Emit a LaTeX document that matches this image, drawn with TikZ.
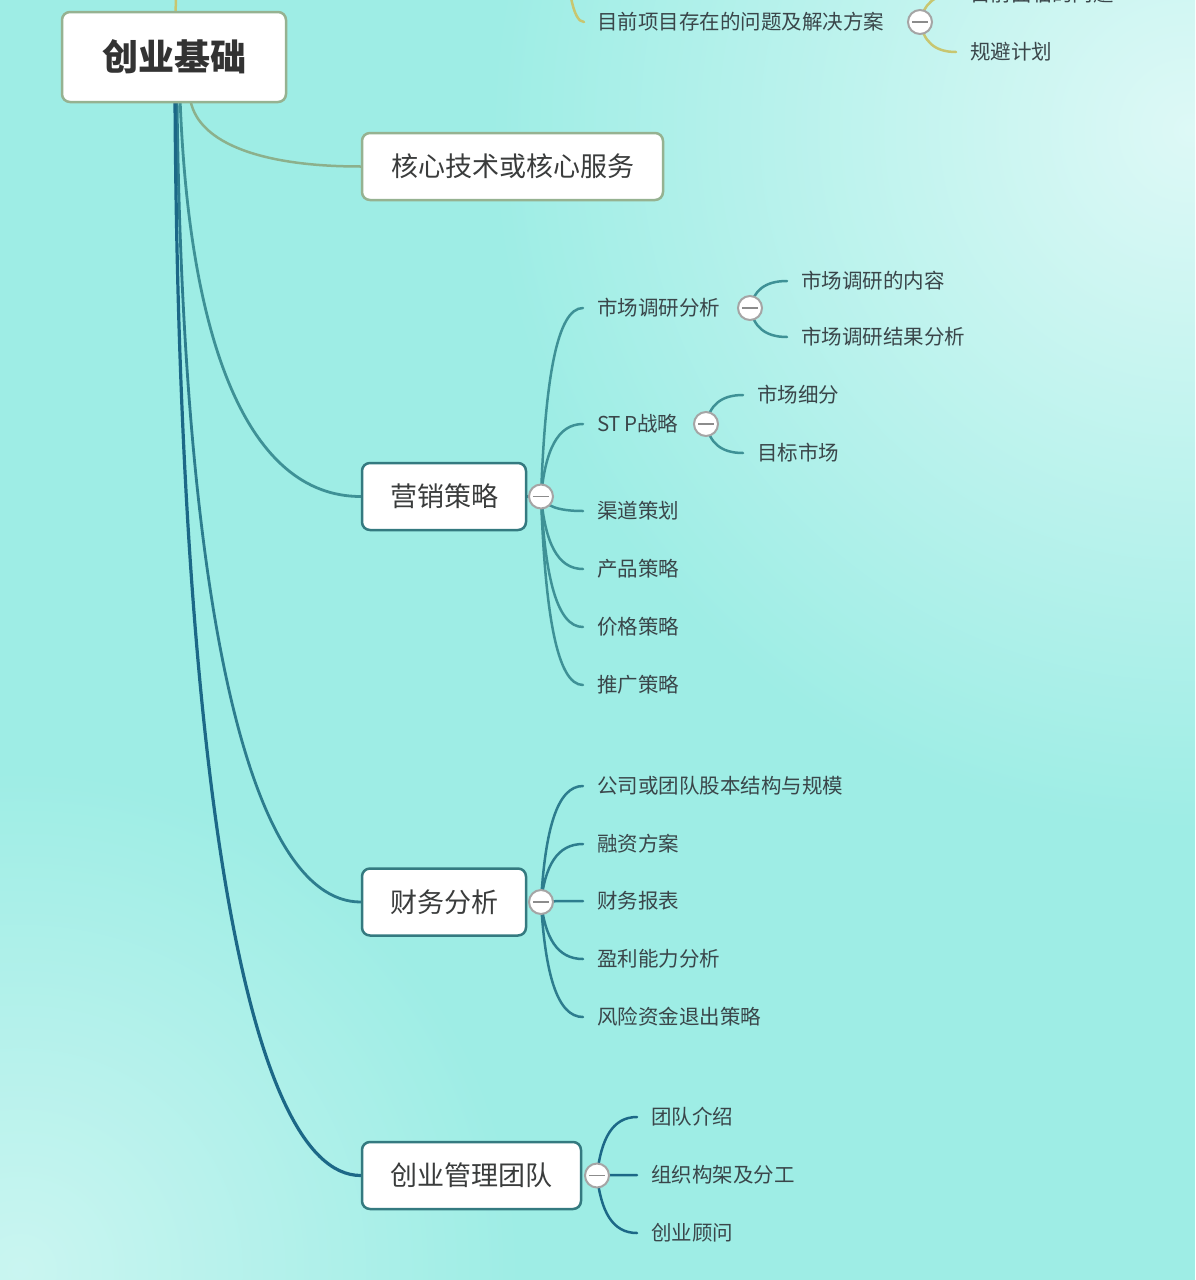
\documentclass[tikz,border=0pt]{standalone}
\usepackage{fontspec}
\setmainfont{Noto Sans CJK SC}
\usetikzlibrary{calc}
\definecolor{bgc}{RGB}{158,237,229}
\definecolor{yel}{RGB}{200,198,112}
\definecolor{olv}{RGB}{140,176,140}
\definecolor{rootb}{RGB}{150,178,145}
\definecolor{teal1}{RGB}{62,145,150}
\definecolor{teal2}{RGB}{45,125,142}
\definecolor{teal3}{RGB}{28,104,135}
\definecolor{boxb}{RGB}{52,122,128}
\definecolor{knobc}{RGB}{165,165,165}
\definecolor{leaftxt}{RGB}{58,70,74}
\definecolor{boxtxt}{RGB}{58,60,60}
\pgfdeclarelayer{bglayer}
\pgfdeclarelayer{lines}
\pgfsetlayers{bglayer,lines,main}
\tikzset{
  box/.style={draw, line width=2.5pt, rounded corners=8pt, fill=white, text=boxtxt,
    inner sep=0pt, font=\fontsize{27}{30}\selectfont},
  leaf/.style={anchor=west, text=leaftxt, inner sep=0pt, font=\fontsize{20.5}{24}\selectfont},
  knob/.style={circle, draw=knobc, line width=2pt, fill=white, minimum size=24pt, inner sep=0pt,
    path picture={\draw[knobc!85!black, line width=1.8pt]
      ([xshift=-8pt]path picture bounding box.center) -- ([xshift=8pt]path picture bounding box.center);}},
  link/.style={line width=2.5pt, line cap=round},
}
% curve: from #2 to #3 (first leaves steeply, ends horizontally)
\newcommand\mmlink[4][0.1]{%
  \draw[link,#4] let \p1=(#2), \p2=(#3) in
    (\p1) .. controls ({\x1+#1*(\x2-\x1)},{\y1+0.62*(\y2-\y1)})
             and ({\x1+0.38*(\x2-\x1)},\y2) .. (\p2);}
\begin{document}
\begin{tikzpicture}[x=1pt,y=-1pt]
\useasboundingbox (0,0) rectangle (1195,1280);
\begin{pgfonlayer}{bglayer}
\clip (0,0) rectangle (1195,1280);
\fill[bgc] (0,0) rectangle (1195,1280);
\shade[inner color=white!65!bgc, outer color=bgc] (1190,130) circle (700);
\shade[inner color=white!45!bgc, outer color=bgc] (20,1270) circle (500);
\end{pgfonlayer}
\clip (0,0) rectangle (1195,1280);

% main boxes
\node[box, draw=rootb, minimum width=224pt, minimum height=90pt,
  font=\fontsize{36}{40}\selectfont\bfseries, text=black!80] (root) at (174,57) {创业基础};
\node[box, draw=rootb, minimum width=301pt, minimum height=67pt] (core) at (512.5,166.5) {核心技术或核心服务};
\node[box, draw=boxb, minimum width=164pt, minimum height=67pt] (mkt) at (444,496.5) {营销策略};
\node[box, draw=boxb, minimum width=164pt, minimum height=67pt] (fin) at (444,902) {财务分析};
\node[box, draw=boxb, minimum width=219pt, minimum height=67pt] (team) at (471.5,1175.5) {创业管理团队};

% top (cut) branch
\coordinate (uptop) at (177,-30);
\coordinate (upbr) at (566,-70);
\node[leaf] (prob) at (597,22) {目前项目存在的问题及解决方案};
\node[knob] (kprob) at (920,22) {};
\node[leaf] (prob1) at (970,-6) {目前面临的问题};
\node[leaf] (prob2) at (970,52) {规避计划};

% marketing
\node[knob] (kmkt) at (541,496.5) {};
\node[leaf] (m1) at (597,308) {市场调研分析};
\node[leaf] (m2) at (597,424) {ST\kern3pt P战略};
\node[leaf] (m3) at (597,511) {渠道策划};
\node[leaf] (m4) at (597,569) {产品策略};
\node[leaf] (m5) at (597,627) {价格策略};
\node[leaf] (m6) at (597,685) {推广策略};
\node[knob] (km1) at (750,308) {};
\node[leaf] (m11) at (801,281) {市场调研的内容};
\node[leaf] (m12) at (801,337) {市场调研结果分析};
\node[knob] (km2) at (706,424) {};
\node[leaf] (m21) at (757,395) {市场细分};
\node[leaf] (m22) at (757,453) {目标市场};

% finance
\node[knob] (kfin) at (541,902) {};
\node[leaf] (f1) at (597,786) {公司或团队股本结构与规模};
\node[leaf] (f2) at (597,844) {融资方案};
\node[leaf] (f3) at (597,901) {财务报表};
\node[leaf] (f4) at (597,959) {盈利能力分析};
\node[leaf] (f5) at (597,1017) {风险资金退出策略};

% team
\node[knob] (kteam) at (597,1175.5) {};
\node[leaf] (t1) at (651,1117) {团队介绍};
\node[leaf] (t2) at (651,1175) {组织构架及分工};
\node[leaf] (t3) at (651,1233) {创业顾问};

\begin{pgfonlayer}{lines}
% root connectors
\draw[link, yel] (root.center) -- (uptop);
\mmlink[0.03]{$(root.south)+(16,-6)$}{core.west}{olv}
\mmlink[0.05]{$(root.south)+(6,-6)$}{mkt.west}{teal1, line width=2.8pt}
\mmlink[0.03]{$(root.south)+(3,-6)$}{fin.west}{teal2, line width=2.8pt}
\mmlink[0.02]{$(root.south)+(1,-6)$}{team.west}{teal3, line width=3.2pt}
% top branch
\mmlink[0.02]{upbr}{$(prob.west)+(-13,0)$}{yel}
\mmlink{kprob.center}{$(prob1.west)+(-14,0)$}{yel}
\mmlink{kprob.center}{$(prob2.west)+(-14,0)$}{yel}
% marketing
\mmlink{mkt.east}{kmkt.center}{teal1}
\foreach \nm in {m1,m2,m3,m4,m5,m6}{\mmlink{kmkt.center}{$(\nm.west)+(-14,0)$}{teal1}}
\foreach \nm in {m11,m12}{\mmlink{km1.center}{$(\nm.west)+(-14,0)$}{teal1}}
\foreach \nm in {m21,m22}{\mmlink{km2.center}{$(\nm.west)+(-14,0)$}{teal1}}
% finance
\foreach \nm in {f1,f2,f3,f4,f5}{\mmlink{kfin.center}{$(\nm.west)+(-14,0)$}{teal2}}
% team
\foreach \nm in {t1,t2,t3}{\mmlink{kteam.center}{$(\nm.west)+(-14,0)$}{teal3}}
\end{pgfonlayer}
\end{tikzpicture}
\end{document}
